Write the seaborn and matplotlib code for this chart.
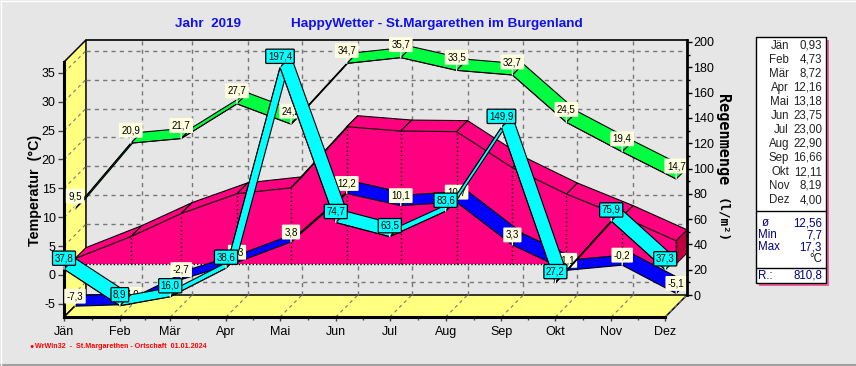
import matplotlib
matplotlib.use("Agg")
import matplotlib.pyplot as plt
import pandas as pd
import seaborn as sns
from matplotlib.patches import Rectangle

months = ["Jän", "Feb", "Mär", "Apr", "Mai", "Jun", "Jul", "Aug", "Sep", "Okt", "Nov", "Dez"]
month_days = [0, 31, 59, 90, 120, 151, 181, 212, 243, 273, 304, 334]
temp_max = [9.5, 20.9, 21.7, 27.7, 24.2, 34.7, 35.7, 33.5, 32.7, 24.5, 19.4, 14.7]
temp_min = [-7.3, -7.0, -2.7, 0.3, 3.8, 12.2, 10.1, 10.7, 3.3, -1.1, -0.2, -5.1]
temp_avg = [0.93, 4.73, 8.72, 12.16, 13.18, 23.75, 23.00, 22.90, 16.66, 12.11, 8.19, 4.00]
rain = [37.8, 8.9, 16.0, 38.6, 197.4, 74.7, 63.5, 83.6, 149.9, 27.2, 75.9, 37.3]
avg_text = ["0,93", "4,73", "8,72", "12,16", "13,18", "23,75", "23,00", "22,90", "16,66", "12,11", "8,19", "4,00"]
temp_ticks = [-5, 0, 5, 10, 15, 20, 25, 30, 35]
rain_ticks = [0, 20, 40, 60, 80, 100, 120, 140, 160, 180, 200]

BG = "#e6e6e6"
YELLOW = "#ffff80"
PINK = "#ff0080"
W, H = 856, 366

sns.set_theme(style="white")
plt.rcParams["font.family"] = ["Liberation Sans", "DejaVu Sans"]

fig = plt.figure(figsize=(W / 100, H / 100), dpi=100, facecolor=BG)
ax = fig.add_axes([64 / W, 1 - 317 / H, 623 / W, 277 / H])
ax.set_facecolor(BG)
ax.set_xlim(0, 346.1)
ax.set_ylim(-7.27, 40.66)
rax = ax.twinx()
rax.set_ylim(-17.39, 201.58)
rax.patch.set_visible(False)

# depth of the 3d box, in data units of each scale
DX = 12.2
DT = 3.806
DR = 17.39


def tp(day, t, d):
    return day + d * DX, t + d * DT


def rp(day, r, d):
    return day + d * DX, r - (1 - d) * DR


def ribbon(axis, conv, vals, color, z):
    for i in range(11):
        p = [conv(month_days[i], vals[i], 0.5 if conv is tp else 0),
             conv(month_days[i + 1], vals[i + 1], 0.5 if conv is tp else 0),
             conv(month_days[i + 1], vals[i + 1], 1 if conv is tp else 0.5),
             conv(month_days[i], vals[i], 1 if conv is tp else 0.5)]
        axis.fill([q[0] for q in p], [q[1] for q in p], facecolor=color, edgecolor="black", lw=0.8, zorder=z)


def label(axis, x, y, text, off, cyan=False):
    axis.annotate("", (x, y), xytext=(0, off * 0.72), textcoords="offset points",
                  arrowprops=dict(arrowstyle="-", color="white", lw=0.9, shrinkA=0, shrinkB=0),
                  zorder=9, annotation_clip=False)
    if cyan:
        box = dict(boxstyle="round,pad=0.22,rounding_size=0.1", fc="#00ffff", ec="black", lw=0.9)
    else:
        box = dict(boxstyle="round,pad=0.25,rounding_size=0.1", fc="#ffffe0", ec="none")
    axis.annotate(text, (x, y), xytext=(0, off * 0.72), textcoords="offset points", ha="center", va="center",
                  fontsize=7, color="black", bbox=box, zorder=10, annotation_clip=False)


# walls and floor
ax.fill([0, DX, DX, 0], [-7.27, -7.27 + DT, 40.66, 36.85], facecolor=YELLOW, edgecolor="black", lw=1.1, zorder=1)
ax.fill([0, DX, 346.1, 334], [-7.27, -7.27 + DT, -7.27 + DT, -7.27], facecolor=YELLOW, edgecolor="black", lw=1.1, zorder=1)

# dashed grid on back plane, diagonals on wall and floor
for t in temp_ticks:
    ax.plot([DX, 346.1], [t + DT, t + DT], color="#777777", lw=1, ls=(0, (3, 3)), zorder=1.5)
    ax.plot([0, DX], [t, t + DT], color="#777777", lw=0.8, ls=(0, (3, 3)), zorder=1.5)
for day in month_days[1:]:
    ax.plot([day + DX, day + DX], [-7.27 + DT, 40.66], color="#777777", lw=1, ls=(0, (3, 3)), zorder=1.5)
    ax.plot([day, day + DX], [-7.27, -7.27 + DT], color="#777777", lw=0.8, ls=(0, (3, 3)), zorder=1.5)

# mean temperature block
front = [tp(d, t, 0.5) for d, t in zip(month_days, temp_avg)]
base = tp(0, 0, 0.5)[1]
ax.fill([front[0][0]] + [q[0] for q in front] + [front[-1][0]],
        [base] + [q[1] for q in front] + [base], facecolor=PINK, edgecolor="none", zorder=3)
ribbon(ax, tp, temp_avg, PINK, 3)
end_a = tp(334, temp_avg[-1], 0.5)
end_b = tp(334, temp_avg[-1], 1)
ax.fill([end_a[0], end_b[0], end_b[0], end_a[0]],
        [end_a[1], end_b[1], base + DT / 2, base], facecolor="#c00040", edgecolor="black", lw=0.6, zorder=3)
for q in front:
    ax.plot([q[0], q[0]], [base, q[1]], color="black", lw=1, ls=(0, (1, 2)), zorder=3.2)
ax.plot([front[0][0], front[-1][0]], [base, base], color="black", lw=1, ls=(0, (1, 1.5)), zorder=3.2)

ribbon(ax, tp, temp_min, "#0000ff", 4)
ribbon(ax, tp, temp_max, "#00ff40", 5)
ribbon(rax, rp, rain, "#00ffff", 7)

# front edge of each ribbon
df_max = pd.DataFrame({"x": [tp(d, t, 0.5)[0] for d, t in zip(month_days, temp_max)],
                       "y": [tp(d, t, 0.5)[1] for d, t in zip(month_days, temp_max)]})
sns.lineplot(data=df_max, x="x", y="y", color="black", lw=0.6, ax=ax, zorder=5.5)
df_rain = pd.DataFrame({"x": [rp(d, r, 0)[0] for d, r in zip(month_days, rain)],
                        "y": [rp(d, r, 0)[1] for d, r in zip(month_days, rain)]})
sns.lineplot(data=df_rain, x="x", y="y", color="black", lw=0.6, ax=rax, zorder=7.5)

# value labels
for d, a, b in zip(month_days, temp_max, temp_min):
    x, y = tp(d, a, 0.5)
    label(ax, x, y, f"{a:.1f}".replace(".", ","), 13)
    x, y = tp(d, b, 0.5)
    label(ax, x, y, f"{b:.1f}".replace(".", ","), 10)
for d, r in zip(month_days, rain):
    x, y = rp(d, r, 0)
    label(rax, x, y, f"{r:.1f}".replace(".", ","), 11, cyan=True)

# axes
ax.set_xlabel("")
ax.set_ylabel("")
rax.set_xlabel("")
rax.set_ylabel("")
ax.set_xticks(month_days)
ax.set_xticklabels(months, fontsize=9, color="black")
ax.set_xticks([(a + b) / 2 for a, b in zip(month_days[:-1], month_days[1:])], minor=True)
ax.set_yticks(temp_ticks)
ax.set_yticklabels([str(t) for t in temp_ticks], fontsize=9, color="black")
rax.set_yticks(rain_ticks)
rax.set_yticklabels([str(r) for r in rain_ticks], fontsize=9, color="black")
rax.set_yticks(range(10, 200, 20), minor=True)
ax.tick_params(axis="x", which="major", bottom=True, length=3, width=1, color="#444444", pad=3.5)
ax.tick_params(axis="x", which="minor", bottom=True, length=2, width=1, color="#444444")
ax.tick_params(axis="y", left=True, length=4, width=1, color="#444444", pad=2)
rax.tick_params(axis="y", which="major", right=True, length=3.5, width=1, color="black", pad=1)
rax.tick_params(axis="y", which="minor", right=True, length=2, width=1, color="black")

ax.spines["right"].set_visible(False)
ax.spines["left"].set_bounds(-7.27, 36.85)
ax.spines["left"].set_linewidth(2.2)
ax.spines["bottom"].set_bounds(0, 334)
ax.spines["bottom"].set_linewidth(2.2)
ax.spines["top"].set_bounds(DX, 346.1)
ax.spines["top"].set_linewidth(1.2)
for s in ["left", "top", "bottom"]:
    rax.spines[s].set_visible(False)
    ax.spines[s].set_color("black")
rax.spines["right"].set_linewidth(2)
rax.spines["right"].set_color("black")
rax.spines["right"].set_bounds(0, 201.58)


def ftext(x, y, s, **kw):
    fig.text(x / W, 1 - y / H, s, **kw)


# titles
ftext(175, 24, "Jahr  2019", fontsize=9.7, fontweight="bold", color="#1010f0", va="center")
ftext(291, 24, "HappyWetter - St.Margarethen im Burgenland", fontsize=9.7, fontweight="bold", color="#1010f0", va="center")
ftext(35, 190, "Temperatur  (°C)", fontsize=10.3, fontweight="bold", color="black", rotation=90, ha="center", va="center")
ftext(722, 140, "Regenmenge", fontsize=11, fontweight="bold", color="black", rotation=270, ha="center", va="center",
      family=["DejaVu Sans Mono"])
ftext(722, 221, "(l/m²)", fontsize=9, fontweight="bold", color="black", rotation=270, ha="center", va="center",
      family=["DejaVu Sans Mono"])
ftext(29, 347, "●", fontsize=5, color="#ff0000", va="center")
ftext(35, 347, "WrWin32  -  St.Margarethen - Ortschaft  01.01.2024", fontsize=5.1, fontweight="bold", color="#ff0000", va="center")

# side panel
fig.add_artist(Rectangle((759 / W, 1 - 286 / H), 70 / W, 246 / H, transform=fig.transFigure, fc="#f060a0", ec="none"))
fig.add_artist(Rectangle((756 / W, 1 - 283 / H), 70 / W, 246 / H, transform=fig.transFigure, fc="white", ec="black", lw=1))
for y in (211, 268):
    fig.add_artist(Rectangle((756 / W, 1 - y / H), 70 / W, 0, transform=fig.transFigure, ec="black", lw=1))
for i, (m, v) in enumerate(zip(months, avg_text)):
    ftext(789, 46 + i * 14, m, fontsize=8.3, color="#222222", ha="right", va="center")
    ftext(822, 46 + i * 14, v, fontsize=8.3, color="#222222", ha="right", va="center")
NAVY = "#000080"
ftext(762, 223, "ø", fontsize=8.3, color=NAVY, va="center")
ftext(758, 235, "Min", fontsize=8.3, color=NAVY, va="center")
ftext(758, 247, "Max", fontsize=8.3, color=NAVY, va="center")
ftext(822, 223, "12,56", fontsize=8.3, color=NAVY, ha="right", va="center")
ftext(822, 235, "7,7", fontsize=8.3, color=NAVY, ha="right", va="center")
ftext(822, 247, "17,3", fontsize=8.3, color=NAVY, ha="right", va="center")
ftext(822, 259, "°C", fontsize=8.3, color="#111111", ha="right", va="center")
ftext(758, 276, "R.:", fontsize=8.3, color=NAVY, va="center")
ftext(822, 276, "810,8", fontsize=8.3, color=NAVY, ha="right", va="center")

# window edge
fig.add_artist(Rectangle((0, 1 / H), 1, 0, transform=fig.transFigure, ec="#a0a0a0", lw=1.5))
fig.add_artist(Rectangle((0.5 / W, 0), 0, 1, transform=fig.transFigure, ec="white", lw=1))
fig.add_artist(Rectangle((0, 1 - 0.5 / H), 1, 0, transform=fig.transFigure, ec="white", lw=1))

fig.savefig("out.png", dpi=100, facecolor=BG)
